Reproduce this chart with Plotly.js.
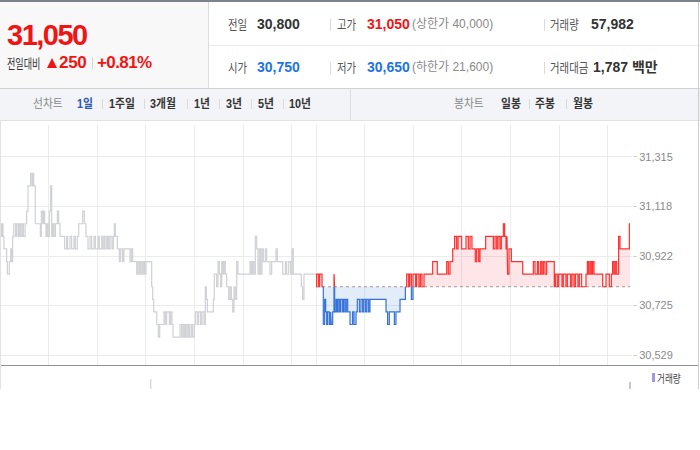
<!DOCTYPE html>
<html><head><meta charset="utf-8">
<script src="https://cdn.plot.ly/plotly-3.0.1.min.js"></script>
<style>
body{margin:0;background:#fff;font-family:"Liberation Sans",Arial,"Noto Sans CJK KR",sans-serif;}
#wrap{position:relative;width:700px;height:450px;overflow:hidden;background:#fff;}
.a{position:absolute;white-space:nowrap;}
.t{position:absolute;white-space:nowrap;height:20px;line-height:20px;}
.num{font-weight:bold;font-size:14px;color:#333;}
.lab{font-size:13px;color:#555;font-family:"Noto Sans CJK KR",sans-serif;transform:scaleX(.8);transform-origin:0 50%;}
.sub{font-size:12px;color:#8a8a8a;}
.sep{position:absolute;width:1px;background:#dadada;}
.tab{font-size:12px;font-weight:bold;color:#333;transform:scaleX(.9);transform-origin:0 50%;}
#chart{position:absolute;left:0;top:120px;width:700px;height:269px;}
</style></head>
<body><div id="wrap">
<!-- header -->
<div class="a" style="left:0;top:0;width:700px;height:2px;background:#7e828a"></div>
<div class="a" style="left:0;top:2px;width:208px;height:86px;background:#f8f8f8"></div>
<div class="a" style="left:208px;top:2px;width:1px;height:86px;background:#dcdcdc"></div>
<div class="a" style="left:209px;top:45px;width:490px;height:1px;background:#e9e9e9"></div>
<div class="a" style="left:0;top:88px;width:700px;height:1px;background:#cfd1d4"></div>

<div class="t" style="left:7px;top:15px;height:40px;line-height:40px;font-size:29px;font-weight:bold;color:#f01414;letter-spacing:-1.5px">31,050</div>
<div class="t" style="left:7px;top:53px;font-size:13px;color:#333;font-family:'Noto Sans CJK KR';transform:scaleX(.7);transform-origin:0 50%">전일대비</div>
<div class="a" style="left:47px;top:58px;width:0;height:0;border-left:5.5px solid transparent;border-right:5.5px solid transparent;border-bottom:10px solid #f01414"></div>
<div class="t" style="left:59px;top:53px;font-size:17px;font-weight:bold;color:#f01414;letter-spacing:-0.3px">250</div>
<div class="sep" style="left:92px;top:57px;height:12px;background:#d6d6d6"></div>
<div class="t" style="left:97px;top:53px;font-size:17px;font-weight:bold;color:#f01414;letter-spacing:-0.6px">+0.81%</div>

<div class="t lab" style="left:228px;top:14px">전일</div>
<div class="t num" style="left:257px;top:14px">30,800</div>
<div class="sep" style="left:330px;top:19px;height:12px"></div>
<div class="t lab" style="left:337px;top:14px">고가</div>
<div class="t num" style="left:367px;top:14px;color:#f01414">31,050</div>
<div class="t sub" style="left:412px;top:14px">(상한가 40,000)</div>
<div class="sep" style="left:544px;top:19px;height:12px"></div>
<div class="t lab" style="left:550px;top:14px">거래량</div>
<div class="t num" style="left:591px;top:14px">57,982</div>

<div class="t lab" style="left:228px;top:57px">시가</div>
<div class="t num" style="left:257px;top:57px;color:#1d74e5">30,750</div>
<div class="sep" style="left:330px;top:62px;height:12px"></div>
<div class="t lab" style="left:337px;top:57px">저가</div>
<div class="t num" style="left:367px;top:57px;color:#1d74e5">30,650</div>
<div class="t sub" style="left:412px;top:57px">(하한가 21,600)</div>
<div class="sep" style="left:544px;top:62px;height:12px"></div>
<div class="t lab" style="left:550px;top:57px">거래대금</div>
<div class="t num" style="left:593px;top:57px">1,787 백만</div>

<!-- tab bar -->
<div class="a" style="left:0;top:89px;width:700px;height:31px;background:#f2f4f7"></div>
<div class="a" style="left:0;top:120px;width:700px;height:1px;background:#dfe1e4"></div>
<div class="a" style="left:350px;top:89px;width:1px;height:31px;background:#dcdee2"></div>
<div class="t tab" style="left:33px;top:94px;font-weight:normal;color:#888">선차트</div>
<div class="t tab" style="left:77px;top:94px;color:#2b56b5">1일</div>
<div class="sep" style="left:102px;top:99px;height:10px"></div>
<div class="t tab" style="left:109px;top:94px">1주일</div>
<div class="sep" style="left:144px;top:99px;height:10px"></div>
<div class="t tab" style="left:150px;top:94px">3개월</div>
<div class="sep" style="left:187px;top:99px;height:10px"></div>
<div class="t tab" style="left:194px;top:94px">1년</div>
<div class="sep" style="left:219px;top:99px;height:10px"></div>
<div class="t tab" style="left:226px;top:94px">3년</div>
<div class="sep" style="left:251px;top:99px;height:10px"></div>
<div class="t tab" style="left:258px;top:94px">5년</div>
<div class="sep" style="left:283px;top:99px;height:10px"></div>
<div class="t tab" style="left:289px;top:94px">10년</div>
<div class="t tab" style="left:454px;top:94px;font-weight:normal;color:#888">봉차트</div>
<div class="t tab" style="left:501px;top:94px">일봉</div>
<div class="sep" style="left:529px;top:99px;height:10px"></div>
<div class="t tab" style="left:535px;top:94px">주봉</div>
<div class="sep" style="left:566px;top:99px;height:10px"></div>
<div class="t tab" style="left:573px;top:94px">월봉</div>

<div id="chart"></div>

<!-- overlays -->
<div class="a" style="left:0;top:365px;width:699px;height:1px;background:#8e9096"></div>
<div class="a" style="left:0;top:121px;width:1px;height:268px;background:#e2e2e2"></div>
<div class="a" style="left:698px;top:2px;width:1px;height:387px;background:#cfcfcf"></div>
<div class="a" style="left:652px;top:373px;width:3px;height:9px;background:#a497dc"></div>
<div class="t" style="left:657px;top:368px;font-size:11px;color:#444;font-family:'Noto Sans CJK KR';transform:scaleX(.78);transform-origin:0 50%">거래량</div>
</div>

<script>
// ---- data ----
const prevClose = 30800;
const sessionMinutes = 390;           // 09:00 ~ 15:30
// previous session (gray): minutes after 09:00, price
const prevTimes = [0,1.6,2.5,3.7,4.9,8.2,9.1,11.5,13.2,14.4,15.6,16.9,19.3,20.6,22.6,23.9,25.5,27.2,28.8,30.9,
32.9,34.6,37.8,39.5,40.3,41.6,43.6,49.8,51.0,52.7,53.9,55.1,56.8,58.0,59.2,60.9,62.5,63.8,65.0,66.6,
68.3,70.8,72.4,74.1,79.8,82.3,83.5,86.4,88.4,91.3,93.0,95.4,97.1,102.0,104.1,106.1,108.6,111.1,113.1,116.0,
117.7,121.0,122.6,125.5,127.1,128.8,130.8,132.5,134.1,135.8,138.2,139.9,141.1,142.3,144.8,147.3,148.9,151.4,153.0,160.4,
162.1,163.7,168.7,170.3,172.0,173.6,175.3,176.9,178.5,180.2,187.2,188.4,189.7,193.4,195.4,197.1,202.4,204.1,205.7,209.0,
210.6,212.3,213.5,222.2,224.2,225.9,227.5,229.1,230.8,232.4,234.1,236.1,237.8,239.8,241.1,243.5,245.2,247.7,249.3,251.8,
253.4,254.7,255.9,263.3,264.5,267.4,269.1,270.7,272.3,273.6,275.2,276.5,278.1,279.8,282.2,283.9,285.5,287.2,288.8,290.4,
292.1,293.7,308.6,310.2,311.8,313.5,315.1,316.8,318.4,320.1,321.7,323.4,325.0,327.5,329.1,333.2,335.3,340.6,342.3,348.9,
352.2,353.8,356.3,358.7,360.4,362.0,371.9,373.5,375.2];
const prevPrices = [31050,31000,31050,31000,30950,30900,30850,30900,30950,30900,31000,31050,31000,31050,31000,31050,31000,31050,31000,31050,
31100,31200,31250,31200,31250,31200,31050,31000,31100,31050,31100,31050,31000,31050,31000,31100,31200,31000,31050,31000,
31050,31100,31050,31000,30950,31000,30950,31000,30950,31000,30950,31000,31050,31100,31050,31000,30950,31000,30950,31000,
30950,31000,30950,31000,30950,31000,30950,31000,30950,31000,30950,31000,31050,31000,30950,30900,30950,30900,30950,30900,
30950,30900,30850,30900,30850,30900,30850,30900,30850,30900,30800,30750,30700,30650,30600,30650,30700,30650,30700,30650,
30700,30650,30600,30650,30600,30650,30600,30650,30600,30650,30600,30650,30600,30650,30700,30650,30700,30650,30700,30650,
30800,30750,30700,30750,30850,30800,30900,30850,30800,30900,30850,30900,30850,30800,30750,30800,30750,30700,30800,30750,
30900,30850,30900,30850,30900,30850,31000,30950,30850,30950,30850,30950,30900,30950,30900,30850,30900,30950,30900,30850,
30900,30850,30900,30850,30950,30850,30800,30750,30850];
const prevEnd = 390;
// today's session: minutes after 09:00, price
const todayTimes = [0,0.8,3.3,4.5,7.4,9.0,10.7,11.9,13.2,14.4,16.5,18.1,18.9,20.6,22.2,23.0,24.7,25.9,27.1,28.8,
30.4,32.5,34.1,35.8,37.4,39.1,42.0,45.2,46.9,49.4,51.0,53.5,55.5,57.6,59.2,61.3,62.9,65.0,66.6,86.4,
88.4,90.5,96.7,98.7,103.7,110.3,111.9,114.4,115.6,117.7,119.7,123.0,124.2,127.1,128.8,130.8,133.3,144.0,149.7,161.3,
163.3,165.4,168.7,171.1,173.6,175.3,179.8,185.1,188.0,190.1,192.5,196.6,198.3,200.8,202.4,209.4,218.9,220.9,223.0,224.6,
227.1,228.7,231.2,232.8,234.5,235.7,236.5,238.2,241.1,255.1,268.2,270.3,273.2,274.8,277.3,278.9,280.6,282.6,284.7,294.1,
295.4,297.8,299.5,303.6,305.2,308.5,310.2,314.3,315.9,318.4,320.1,323.3,325.0,327.9,333.2,334.9,336.5,338.2,339.8,341.4,
343.1,353.8,357.9,362.0,364.5,366.1,367.8,369.4,371.1,373.5,375.2,386.7];
const todayPrices = [30800,30850,30800,30850,30800,30650,30750,30700,30650,30700,30650,30700,30650,30700,30850,30700,30750,30700,30750,30700,
30750,30700,30750,30700,30750,30700,30650,30700,30650,30700,30750,30700,30750,30700,30750,30700,30750,30700,30750,30700,
30650,30700,30650,30700,30750,30800,30850,30800,30850,30750,30850,30800,30850,30800,30850,30800,30850,30900,30850,30900,
30850,30900,30950,31000,30950,31000,30950,31000,30950,31000,30950,30900,30950,30900,30950,31000,30950,31000,30950,31000,
30950,31000,31050,31000,30950,31000,30850,30950,30900,30850,30900,30850,30900,30850,30900,30850,30900,30850,30900,30800,
30850,30800,30850,30800,30850,30800,30850,30800,30850,30800,30850,30800,30850,30800,30850,30900,30850,30900,30850,30900,
30850,30800,30850,30800,30850,30900,30850,30900,30850,31000,30950,31050];
const todayEnd = 387.5;
// volume (only bars tall enough to show)
const volTimes = [186, 777.5];       // minutes on the two-session axis
const volValues = [1000, 700];
const volColors = ['#dedede', '#b4a9e6'];
// axis
const hourGrid = [60,120,180,240,300,360,390,450,510,570,630,690,750];
const yTickVals = [30529, 30725, 30922, 31118, 31315];
const yTickText = ['30,529', '30,725', '30,922', '31,118', '31,315'];

// ---- build ----
function stepExpand(ts, ps, tEnd, off){
  const xs=[], ys=[];
  for(let i=0;i<ts.length;i++){
    if(i>0){xs.push(ts[i]+off); ys.push(ps[i-1]);}
    xs.push(ts[i]+off); ys.push(ps[i]);
  }
  xs.push(tEnd+off); ys.push(ps[ps.length-1]);
  return {xs, ys};
}
const prev = stepExpand(prevTimes, prevPrices, prevEnd, 0);
const today = stepExpand(todayTimes, todayPrices, todayEnd, sessionMinutes);
const base = prevClose;

function split(xs, ys){
  const red={x:[],y:[]}, blue={x:[],y:[]};
  let cur=null;
  for(let i=0;i<xs.length-1;i++){
    const x0=xs[i],y0=ys[i],x1=xs[i+1],y1=ys[i+1];
    const segs=[];
    if((y0>base&&y1<base)||(y0<base&&y1>base)){
      const t=(base-y0)/(y1-y0), xm=x0+(x1-x0)*t;
      segs.push([x0,y0,xm,base,y0>base?'r':'b']);
      segs.push([xm,base,x1,y1,y1>base?'r':'b']);
    } else {
      segs.push([x0,y0,x1,y1,(y0<base||y1<base)?'b':'r']);
    }
    for(const s of segs){
      const tr = s[4]==='r'?red:blue;
      if(cur!==s[4]){
        if(cur){const o=cur==='r'?red:blue; o.x.push(null); o.y.push(null);}
        tr.x.push(s[0]); tr.y.push(s[1]); cur=s[4];
      }
      tr.x.push(s[2]); tr.y.push(s[3]);
    }
  }
  return {red, blue};
}
const parts = split(today.xs, today.ys);
const x0 = sessionMinutes, x1 = sessionMinutes + todayEnd;

const traces = [
  {x:prev.xs, y:prev.ys, mode:'lines', line:{color:'#d0d1d5', width:1.2}, hoverinfo:'skip'},
  {x:[x0,x1], y:[base,base], mode:'lines', line:{width:0, color:'rgba(0,0,0,0)'}, hoverinfo:'skip'},
  {x:today.xs, y:today.ys.map(v=>Math.max(v,base)), mode:'lines', fill:'tonexty',
   fillcolor:'rgba(245,60,75,0.13)', line:{width:0, color:'rgba(0,0,0,0)'}, hoverinfo:'skip'},
  {x:[x0,x1], y:[base,base], mode:'lines', line:{width:0, color:'rgba(0,0,0,0)'}, hoverinfo:'skip'},
  {x:today.xs, y:today.ys.map(v=>Math.min(v,base)), mode:'lines', fill:'tonexty',
   fillcolor:'rgba(60,120,215,0.14)', line:{width:0, color:'rgba(0,0,0,0)'}, hoverinfo:'skip'},
  {x:[x0,x1], y:[base,base], mode:'lines', line:{width:1, color:'#9c9c9c', dash:'dot'}, hoverinfo:'skip'},
  {x:parts.red.x, y:parts.red.y, mode:'lines', line:{color:'#ff3030', width:1.2}, connectgaps:false, hoverinfo:'skip'},
  {x:parts.blue.x, y:parts.blue.y, mode:'lines', line:{color:'#3472d8', width:1.2}, connectgaps:false, hoverinfo:'skip'},
  {type:'bar', x:volTimes, y:volValues, width:[1.8,1.8], marker:{color:volColors, line:{width:0}},
   xaxis:'x2', yaxis:'y2', hoverinfo:'skip'}
];

const layout = {
  width:700, height:269,
  margin:{l:0, r:68, t:5, b:0},
  paper_bgcolor:'rgba(0,0,0,0)', plot_bgcolor:'rgba(0,0,0,0)',
  showlegend:false,
  xaxis:{range:[0,780], tickvals:hourGrid, showticklabels:false, ticks:'', showgrid:true,
         gridcolor:'#ececec', gridwidth:1, zeroline:false, showline:false, anchor:'y'},
  yaxis:{domain:[24/264,1], range:[30489.3,31442], side:'right', tickvals:yTickVals, ticktext:yTickText,
         ticks:'outside', ticklen:4, tickcolor:'#d2d2d2', showgrid:true, gridcolor:'#ececec',
         tickfont:{family:'Liberation Sans, Arial, sans-serif', size:11, color:'#8a8a8a'},
         zeroline:false, showline:false, anchor:'x'},
  xaxis2:{range:[0,780], domain:[0,1], anchor:'y2', visible:false},
  yaxis2:{domain:[0,19/264], range:[0,1900], anchor:'x2', visible:false}
};
Plotly.newPlot('chart', traces, layout, {staticPlot:true, displayModeBar:false});
</script>
</body></html>
